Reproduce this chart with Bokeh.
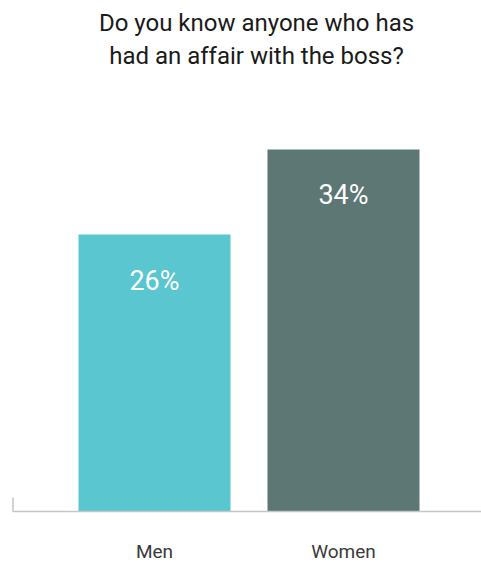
from bokeh.plotting import figure
from bokeh.models import Range1d, ColumnDataSource
from bokeh.embed import file_html
from bokeh.resources import INLINE
from bokeh.core.properties import value

# ---- data ----
categories = ["Men", "Women"]
values = [26, 34]
value_labels = ["26%", "34%"]
colors = ["#5AC6D0", "#5D7775"]
title_lines = ["Do you know anyone who has", "had an affair with the boss?"]

FONT = "Roboto"

# ---- geometry (pixels) ----
W, H = 481, 565
base_px = 511          # page y of the zero line
step_px = 189          # distance between bar centres
first_px = 154         # first bar centre from left edge
bar_px = 152
ppu = 10.65            # pixels per percentage point
xs = [1, 2]
x_start = 1 - first_px / step_px
x_end = x_start + W / step_px
y_end = base_px / ppu
y_start = -(H - base_px) / ppu


def px_x(px):
    return x_start + px / step_px


def px_y(py):
    return (base_px - py) / ppu


p = figure(width=W, height=H,
           x_range=Range1d(x_start, x_end), y_range=Range1d(y_start, y_end),
           output_backend="svg", toolbar_location=None,
           x_axis_location=None, y_axis_location=None,
           min_border=0)
p.outline_line_color = None
p.grid.visible = False
p.background_fill_color = "white"
p.border_fill_color = "white"

src = ColumnDataSource(dict(
    x=xs, top=values, color=colors, label=value_labels,
    ly=[v - 46 / ppu for v in values],
    cat=categories, cy=[px_y(551)] * len(xs),
))
p.vbar(x="x", top="top", bottom=0, width=bar_px / step_px, color="color",
       line_color=None, source=src)
p.text(x="x", y="ly", text="label", source=src, text_align="center",
       text_baseline="middle", text_color="white", text_font_size="27px",
       text_font=value(FONT))

# baseline (axis line) and small left tick
p.segment(x0=[px_x(12)], y0=[0], x1=[x_end], y1=[0],
          line_color="#c6c6c6", line_width=1.5)
p.segment(x0=[px_x(12.5)], y0=[0], x1=[px_x(12.5)], y1=[14 / ppu],
          line_color="#c6c6c6", line_width=1.5)

# category labels
p.text(x="x", y="cy", text="cat", source=src, text_align="center",
       text_baseline="middle", text_color="#3a3a3a",
       text_font_size="19px", text_font=value(FONT))

# title lines
tx = px_x(256)
p.text(x=[tx, tx], y=[px_y(22), px_y(55)], text=title_lines,
       text_align="center", text_baseline="middle", text_color="#1a1a1a",
       text_font_size="24px", text_font=value(FONT))

open("out.html", "w").write(file_html(p, INLINE))
